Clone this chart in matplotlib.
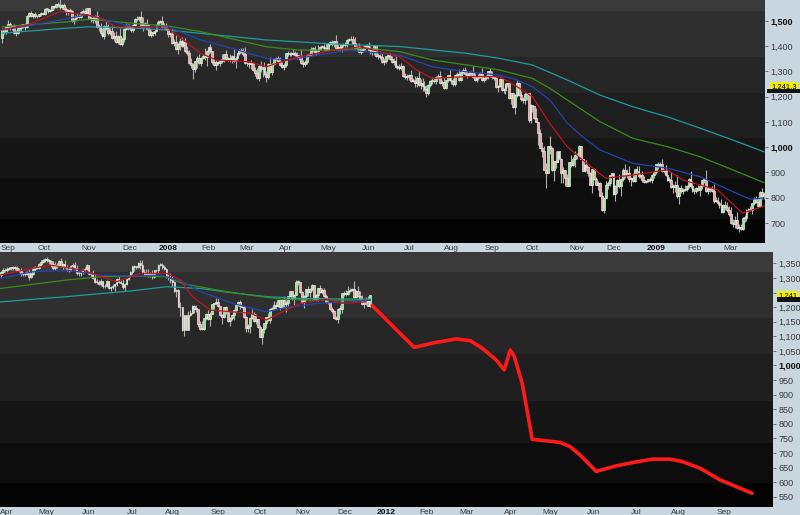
import numpy as np
import pandas as pd
import matplotlib
matplotlib.use("Agg")
import matplotlib.pyplot as plt
from matplotlib.patches import Rectangle

plt.rcParams['font.family'] = ['Liberation Sans', 'DejaVu Sans']

# ---------------- calendar ----------------
HOLIDAYS = ['2007-09-03', '2007-11-22', '2007-12-25', '2008-01-01', '2008-01-21', '2008-02-18',
            '2008-03-21', '2008-05-26', '2008-07-04', '2008-09-01', '2008-11-27', '2008-12-25',
            '2009-01-01', '2009-01-19', '2009-02-16',
            '2011-04-22', '2011-05-30', '2011-07-04', '2011-09-05', '2011-11-24', '2011-12-26',
            '2012-01-02', '2012-01-16', '2012-02-20', '2012-04-06', '2012-05-28', '2012-07-04',
            '2012-09-03']
top_start, top_end = '2007-08-29', '2009-03-25'
bot_start, bot_end = '2011-03-29', '2012-09-28'

# ---------------- top panel data (2007-2009) ----------------
top_open0 = 1432
top_close = [
    1463, 1457, 1474,
    1489, 1472, 1478, 1453, 1451, 1471, 1471, 1484, 1484, 1476, 1519, 1529, 1518, 1525, 1517, 1517, 1525, 1531, 1527,
    1547, 1546, 1540, 1542, 1557, 1553, 1565, 1562, 1554, 1561, 1548, 1538, 1541, 1540, 1500, 1507, 1520, 1516, 1515, 1535, 1540, 1531, 1549,
    1508, 1510, 1502, 1520, 1475, 1475, 1453, 1439, 1481, 1470, 1451, 1458, 1433, 1440, 1416, 1440, 1407, 1429, 1469, 1470, 1481,
    1473, 1462, 1485, 1508, 1505, 1515, 1477, 1486, 1488, 1467, 1445, 1454, 1453, 1460, 1484, 1496, 1497, 1476, 1478, 1468,
    1447, 1447, 1411, 1416, 1390, 1409, 1420, 1401, 1416, 1380, 1373, 1333, 1325, 1310, 1339, 1353, 1331, 1353, 1362, 1355, 1379,
    1396, 1380, 1336, 1326, 1336, 1331, 1339, 1348, 1367, 1349, 1349, 1348, 1360, 1342, 1353, 1371, 1381, 1380, 1367, 1331,
    1331, 1327, 1334, 1304, 1294, 1273, 1321, 1309, 1316, 1289, 1277, 1330, 1299, 1330, 1349, 1352, 1341, 1325, 1316, 1323,
    1371, 1368, 1370, 1370, 1373, 1365, 1355, 1361, 1333, 1329, 1335, 1364, 1366, 1390, 1388, 1376, 1380, 1389, 1398, 1397, 1391, 1386,
    1409, 1414, 1407, 1418, 1392, 1397, 1388, 1404, 1403, 1408, 1424, 1426, 1427, 1413, 1391, 1395, 1376, 1386, 1391, 1401, 1400,
    1386, 1377, 1377, 1404, 1361, 1361, 1358, 1335, 1339, 1360, 1361, 1350, 1338, 1342, 1318, 1318, 1315, 1322, 1283, 1278, 1280,
    1285, 1262, 1262, 1253, 1274, 1245, 1254, 1240, 1229, 1215, 1246, 1261, 1261, 1260, 1277, 1283, 1253, 1257, 1235, 1264, 1284, 1267,
    1261, 1249, 1284, 1290, 1267, 1297, 1306, 1290, 1286, 1293, 1298, 1278, 1266, 1275, 1278, 1292, 1267, 1272, 1281, 1300, 1283,
    1277, 1275, 1237, 1242, 1268, 1225, 1228, 1250, 1252, 1193, 1214, 1157, 1207, 1255, 1208, 1189, 1186, 1210, 1213, 1106, 1166,
    1161, 1115, 1099, 1056, 996, 985, 910, 899, 1003, 998, 908, 946, 941, 985, 955, 896, 909, 877, 848, 941, 930, 954, 969,
    966, 1005, 953, 905, 931, 920, 899, 852, 912, 873, 851, 859, 807, 752, 800, 852, 858, 888, 896,
    816, 848, 870, 845, 876, 909, 888, 899, 873, 879, 868, 913, 904, 885, 888, 871, 863, 868, 873, 869, 890, 903,
    932, 927, 935, 907, 910, 890, 871, 872, 842, 844, 850, 806, 840, 828, 832, 836, 845, 874, 845, 826,
    825, 838, 832, 845, 869, 870, 828, 834, 835, 827, 789, 788, 778, 770, 743, 773, 764, 753, 735,
    700, 696, 712, 682, 683, 677, 720, 721, 751, 757, 753, 778, 795, 785, 769, 823, 806, 814,
]
top_upper_wick = [
    8, 10, 6,
    12, 6, 5, 8, 10, 5, 6, 4, 5, 8, 3, 4, 10, 4, 8, 6, 3, 4, 5,
    3, 4, 6, 4, 3, 5, 2, 8, 22, 4, 10, 8, 6, 8, 2, 3, 4, 9, 12, 3, 5, 10, 3,
    1, 10, 8, 3, 18, 12, 16, 20, 4, 22, 18, 12, 20, 16, 20, 3, 30, 6, 4, 20, 7,
    8, 12, 3, 4, 10, 4, 22, 30, 8, 18, 20, 8, 6, 6, 3, 5, 4, 20, 12, 12,
    4, 6, 20, 10, 26, 4, 10, 16, 8, 16, 20, 10, 18, 8, 3, 8, 15, 3, 6, 30, 5,
    3, 12, 2, 14, 8, 6, 5, 20, 2, 18, 8, 20, 4, 30, 6, 3, 6, 10, 12, 30,
    6, 4, 12, 2, 14, 20, 3, 18, 4, 20, 12, 3, 25, 3, 5, 4, 8, 16, 12, 8,
    2, 10, 5, 8, 15, 6, 10, 6, 26, 10, 8, 3, 8, 5, 8, 12, 8, 14, 3, 8, 10, 20,
    3, 6, 10, 3, 24, 10, 12, 2, 8, 6, 3, 6, 12, 14, 22, 10, 16, 6, 8, 3, 6,
    14, 14, 10, 2, 1, 10, 8, 18, 12, 2, 6, 12, 12, 10, 20, 6, 12, 12, 1, 10, 8,
    5, 22, 10, 20, 8, 26, 15, 18, 20, 16, 4, 6, 18, 14, 4, 6, 20, 10, 22, 3, 3, 20,
    12, 14, 3, 8, 20, 3, 8, 12, 10, 8, 4, 22, 14, 8, 10, 4, 22, 6, 6, 3, 15,
    20, 5, 2, 2, 7, 2, 5, 3, 3, 3, 1, 2, 4, 10, 1, 13, 11, 10, 2, 2, 5,
    1, 1, 39, 1, 16, 25, 20, 26, 3, 41, 1, 1, 38, 1, 1, 1, 13, 1, 16, 1, 28, 9, 15,
    6, 2, 1, 1, 1, 20, 4, 1, 1, 4, 9, 6, 5, 14, 1, 16, 10, 1, 1,
    1, 3, 4, 25, 3, 9, 25, 15, 25, 4, 20, 2, 12, 20, 10, 18, 16, 4, 3, 8, 4, 3,
    2, 10, 8, 20, 5, 20, 20, 10, 30, 10, 18, 40, 2, 12, 6, 14, 6, 3, 30, 20,
    12, 4, 12, 4, 2, 8, 40, 10, 4, 10, 28, 12, 15, 10, 24, 3, 15, 20, 16,
    30, 15, 15, 30, 14, 12, 3, 12, 3, 2, 11, 3, 8, 10, 19, 2, 16, 8,
]
top_lower_wick = [
    20, 10, 8,
    6, 10, 8, 6, 10, 4, 8, 10, 12, 14, 4, 6, 4, 8, 6, 6, 4, 6, 4,
    4, 6, 8, 4, 3, 6, 4, 6, 6, 6, 4, 14, 16, 4, 4, 14, 10, 8, 6, 4, 6, 4, 6,
    3, 12, 12, 10, 4, 16, 8, 4, 10, 6, 8, 6, 4, 14, 4, 8, 4, 8, 12, 6, 8,
    4, 6, 8, 6, 6, 6, 4, 18, 10, 4, 4, 8, 12, 8, 6, 4, 4, 4, 10, 4,
    12, 10, 4, 12, 4, 22, 26, 4, 4, 2, 8, 3, 10, 40, 14, 26, 4, 10, 6, 10, 33,
    10, 6, 6, 4, 20, 6, 10, 8, 10, 4, 10, 10, 16, 4, 28, 10, 8, 6, 6, 4,
    10, 12, 18, 4, 12, 4, 10, 12, 32, 4, 21, 6, 4, 12, 4, 10, 10, 4, 4, 10,
    6, 8, 8, 8, 6, 6, 6, 10, 4, 10, 8, 6, 8, 6, 10, 8, 10, 6, 6, 6, 6, 4,
    4, 6, 8, 12, 4, 8, 4, 10, 6, 6, 10, 6, 6, 4, 4, 10, 4, 8, 8, 6, 6,
    6, 8, 12, 12, 4, 14, 10, 4, 10, 8, 10, 4, 4, 12, 4, 10, 8, 8, 4, 8, 12,
    14, 4, 6, 14, 14, 4, 14, 16, 6, 15, 8, 10, 12, 8, 10, 6, 4, 10, 4, 4, 6, 4,
    10, 6, 6, 8, 4, 6, 8, 6, 12, 6, 10, 4, 6, 10, 8, 6, 4, 8, 8, 10, 4,
    6, 8, 4, 20, 6, 4, 10, 16, 14, 4, 24, 4, 24, 8, 4, 8, 10, 16, 23, 5, 12,
    21, 4, 1, 49, 1, 25, 1, 59, 1, 26, 1, 42, 23, 1, 3, 36, 38, 32, 3, 3, 7, 6, 32,
    12, 1, 1, 1, 4, 13, 15, 1, 34, 1, 1, 21, 1, 5, 11, 1, 18, 11, 2,
    6, 30, 30, 6, 40, 10, 10, 10, 10, 25, 6, 4, 10, 6, 6, 8, 6, 4, 6, 6, 10, 12,
    8, 12, 6, 4, 8, 4, 6, 10, 4, 25, 20, 6, 30, 10, 14, 6, 10, 6, 6, 4,
    12, 6, 4, 24, 10, 10, 4, 14, 12, 6, 8, 6, 6, 10, 4, 4, 12, 10, 6,
    2, 10, 14, 6, 16, 5, 4, 16, 14, 6, 6, 16, 8, 4, 4, 4, 10, 12,
]

# moving averages of the top panel, read at sample dates
top_ma200_dates = ['2007-08-29', '2007-10-17', '2007-11-01', '2007-12-05', '2008-01-02', '2008-01-28',
                   '2008-03-17', '2008-05-06', '2008-06-24', '2008-08-13', '2008-09-08', '2008-10-01',
                   '2008-10-27', '2008-11-19', '2008-12-15', '2009-01-12', '2009-02-05', '2009-03-03',
                   '2009-03-25']
top_ma200 = [1451, 1471, 1476, 1471, 1463, 1450, 1424, 1408, 1398, 1371, 1351, 1325, 1266, 1206, 1160,
             1120, 1075, 1028, 982]
top_ma100_dates = ['2007-08-29', '2007-10-17', '2007-11-01', '2007-12-05', '2008-01-02', '2008-01-28',
                   '2008-03-17', '2008-04-10', '2008-05-06', '2008-05-30', '2008-06-24', '2008-07-18',
                   '2008-08-13', '2008-09-08', '2008-10-01', '2008-10-14', '2008-10-27', '2008-11-19',
                   '2008-12-15', '2009-01-12', '2009-02-05', '2009-03-03', '2009-03-25']
top_ma100 = [1476, 1496, 1506, 1490, 1479, 1457, 1397, 1384, 1384, 1391, 1378, 1345, 1325, 1305, 1272,
             1233, 1187, 1101, 1035, 1002, 962, 910, 860]
top_ma50_dates = ['2007-08-29', '2007-09-21', '2007-10-17', '2007-10-31', '2007-11-09', '2007-12-05',
                  '2008-01-02', '2008-01-28', '2008-02-20', '2008-03-17', '2008-04-03', '2008-04-23',
                  '2008-05-16', '2008-06-24', '2008-07-18', '2008-08-13', '2008-09-08', '2008-09-19',
                  '2008-10-01', '2008-10-14', '2008-10-27', '2008-11-06', '2008-11-19', '2008-12-15',
                  '2009-01-12', '2009-02-05', '2009-03-03', '2009-03-16', '2009-03-25']
top_ma50 = [1463, 1483, 1509, 1523, 1509, 1476, 1476, 1424, 1391, 1351, 1345, 1364, 1384, 1364, 1318,
            1298, 1285, 1266, 1239, 1187, 1096, 1041, 989, 936, 917, 883, 824, 794, 799]
top_ma20_dates = ['2007-08-29', '2007-09-18', '2007-10-11', '2007-10-31', '2007-11-09', '2007-11-21',
                  '2007-12-05', '2008-01-02', '2008-01-14', '2008-01-28', '2008-02-07', '2008-03-04',
                  '2008-03-17', '2008-03-28', '2008-04-10', '2008-05-06', '2008-05-27', '2008-06-24',
                  '2008-07-08', '2008-07-18', '2008-08-13', '2008-09-08', '2008-09-19', '2008-10-01',
                  '2008-10-14', '2008-10-27', '2008-11-06', '2008-11-24', '2008-12-15', '2009-01-12',
                  '2009-01-23', '2009-02-19', '2009-03-10', '2009-03-25']
top_ma20 = [1465, 1483, 1536, 1523, 1511, 1476, 1476, 1470, 1424, 1371, 1345, 1338, 1318, 1338, 1358,
            1384, 1397, 1358, 1305, 1272, 1279, 1279, 1239, 1200, 1094, 1002, 949, 877, 890, 910, 870,
            831, 739, 767]

# ---------------- bottom panel data (2011) ----------------
bot_open0 = 1310
bot_close = [
    1319, 1328, 1326,
    1332, 1333, 1333, 1336, 1334, 1328, 1325, 1314, 1314, 1315, 1320, 1305, 1313, 1330, 1337, 1335, 1347, 1356, 1360, 1364,
    1361, 1357, 1347, 1335, 1340, 1346, 1357, 1342, 1349, 1338, 1330, 1329, 1341, 1344, 1333, 1317, 1316, 1321, 1326, 1331, 1345,
    1315, 1313, 1300, 1286, 1285, 1280, 1289, 1271, 1272, 1288, 1265, 1268, 1272, 1278, 1296, 1287, 1284, 1269, 1280, 1297, 1307, 1321,
    1340, 1338, 1339, 1353, 1344, 1320, 1314, 1318, 1309, 1316, 1305, 1327, 1326, 1344, 1345, 1337, 1332, 1305, 1301, 1292,
    1287, 1254, 1260, 1200, 1199, 1120, 1173, 1121, 1173, 1179, 1205, 1193, 1194, 1141, 1124, 1124, 1162, 1178, 1159, 1177, 1210, 1213, 1219,
    1204, 1174, 1165, 1199, 1186, 1154, 1162, 1173, 1189, 1209, 1216, 1204, 1202, 1167, 1130, 1136, 1163, 1175, 1151, 1160, 1131,
    1099, 1124, 1144, 1165, 1155, 1195, 1196, 1207, 1204, 1225, 1201, 1225, 1210, 1215, 1238, 1254, 1229, 1242, 1285, 1285, 1253,
    1218, 1238, 1261, 1253, 1261, 1276, 1229, 1240, 1264, 1252, 1258, 1237, 1216, 1216, 1193, 1188, 1162, 1159, 1193, 1195, 1247,
    1245, 1244, 1257, 1259, 1261, 1234, 1255, 1237, 1226, 1212, 1216, 1220, 1205, 1241,
]
bot_upper_wick = [
    4, 6, 5,
    4, 6, 4, 6, 5, 8, 6, 8, 6, 6, 4, 12, 8, 6, 5, 4, 4, 4, 6, 4,
    9, 4, 6, 10, 14, 4, 3, 12, 4, 12, 8, 8, 3, 6, 12, 10, 6, 4, 4, 6, 3,
    1, 4, 14, 14, 10, 8, 6, 1, 8, 4, 1, 6, 8, 4, 3, 12, 6, 12, 4, 3, 4, 4,
    2, 4, 3, 3, 10, 18, 12, 12, 12, 4, 12, 2, 4, 3, 6, 6, 8, 1, 12, 15,
    15, 1, 1, 1, 18, 1, 1, 1, 13, 11, 1, 1, 15, 1, 13, 30, 1, 1, 12, 5, 1, 1, 11,
    11, 1, 1, 1, 5, 1, 3, 4, 4, 2, 4, 10, 3, 1, 1, 6, 4, 20, 9, 15, 1,
    7, 1, 2, 1, 16, 2, 3, 13, 12, 1, 1, 4, 14, 10, 1, 2, 1, 4, 8, 8, 1,
    1, 3, 1, 10, 3, 2, 1, 6, 2, 12, 6, 6, 8, 4, 2, 8, 1, 8, 3, 12, 1,
    8, 14, 17, 8, 6, 27, 3, 18, 17, 14, 10, 14, 18, 1,
]
bot_lower_wick = [
    6, 4, 4,
    6, 4, 6, 4, 6, 4, 4, 6, 8, 6, 4, 12, 4, 4, 6, 4, 4, 6, 4, 4,
    6, 8, 8, 8, 6, 6, 6, 4, 15, 4, 6, 10, 4, 6, 6, 6, 8, 10, 6, 4, 4,
    4, 8, 4, 4, 6, 4, 8, 4, 6, 4, 4, 8, 6, 16, 6, 4, 6, 6, 14, 4, 4, 4,
    6, 14, 6, 6, 12, 4, 4, 8, 6, 4, 10, 4, 6, 10, 4, 6, 6, 4, 8, 10,
    13, 1, 20, 1, 31, 1, 19, 1, 1, 3, 1, 13, 11, 10, 2, 3, 1, 6, 4, 24, 1, 15, 4,
    4, 4, 24, 2, 10, 6, 17, 6, 16, 6, 6, 10, 4, 3, 16, 16, 24, 4, 2, 10, 2,
    1, 24, 12, 16, 2, 8, 2, 6, 12, 4, 10, 2, 14, 28, 12, 4, 6, 20, 2, 8, 4,
    3, 20, 12, 14, 18, 6, 2, 8, 20, 4, 8, 2, 2, 4, 2, 8, 2, 2, 14, 16, 14,
    6, 6, 2, 6, 2, 4, 4, 2, 2, 4, 14, 10, 2, 3,
]

bot_ma200_dates = ['2011-03-29', '2011-05-16', '2011-07-01', '2011-07-27', '2011-08-19', '2011-09-13',
                   '2011-10-06', '2011-10-31', '2011-11-30', '2011-12-20']
bot_ma200 = [1218, 1236, 1256, 1270, 1264, 1249, 1236, 1230, 1228, 1227]
bot_ma100_dates = ['2011-03-29', '2011-05-16', '2011-06-09', '2011-07-01', '2011-07-27', '2011-08-08',
                   '2011-08-31', '2011-09-26', '2011-10-18', '2011-11-10', '2011-12-06', '2011-12-20']
bot_ma100 = [1264, 1293, 1304, 1306, 1304, 1281, 1259, 1241, 1227, 1224, 1224, 1224]
bot_ma50_dates = ['2011-03-29', '2011-04-20', '2011-05-16', '2011-06-09', '2011-07-01', '2011-07-22',
                  '2011-08-08', '2011-08-19', '2011-09-13', '2011-10-06', '2011-10-18', '2011-11-10',
                  '2011-12-06', '2011-12-20']
bot_ma50 = [1299, 1321, 1327, 1310, 1306, 1310, 1287, 1253, 1213, 1184, 1196, 1213, 1218, 1224]
bot_ma20_dates = ['2011-03-29', '2011-04-20', '2011-05-04', '2011-05-26', '2011-06-21', '2011-07-08',
                  '2011-07-27', '2011-08-05', '2011-08-15', '2011-08-26', '2011-09-13', '2011-09-26',
                  '2011-10-06', '2011-10-18', '2011-10-31', '2011-11-17', '2011-11-30', '2011-12-16']
bot_ma20 = [1310, 1333, 1344, 1327, 1287, 1316, 1316, 1293, 1236, 1190, 1184, 1179, 1156, 1184, 1213,
            1227, 1213, 1218]

# projection (red line)
proj_dates = ['2011-12-21', '2012-01-11', '2012-01-24', '2012-02-07', '2012-02-23', '2012-03-05',
              '2012-03-13', '2012-03-22', '2012-03-28', '2012-04-02', '2012-04-04', '2012-04-11',
              '2012-04-16', '2012-04-18', '2012-04-27', '2012-05-08', '2012-05-15', '2012-05-22',
              '2012-06-04', '2012-06-18', '2012-06-28', '2012-07-13', '2012-07-26', '2012-08-03',
              '2012-08-16', '2012-08-30', '2012-09-10', '2012-09-24']
proj_values = [1205, 1116, 1062, 1078, 1091, 1085, 1059, 1019, 985, 1053, 1032, 939, 825, 747, 742,
               736, 722, 693, 637, 656, 667, 679, 679, 671, 648, 608, 591, 562]

top_yticks = [700, 800, 900, 1000, 1100, 1200, 1300, 1400, 1500]
bot_yticks = [550, 600, 650, 700, 750, 800, 850, 900, 950, 1000, 1050, 1100, 1150, 1200, 1250, 1300, 1350]
bot_hidden_ticks = [1250]          # covered by the last-price tag in the reference
last_price = 1241.3

# ---------------- drawing ----------------
W, H = 800, 515
fig = plt.figure(figsize=(8.0, 5.15), dpi=100)
fig.patch.set_facecolor('#c8d6df')

ax1 = fig.add_axes([0, (H - 243) / H, 765 / W, 243 / H])
ax2 = fig.add_axes([0, (H - 507) / H, 773 / W, 255 / H])

top_days = pd.bdate_range(top_start, top_end, freq='C', holidays=HOLIDAYS)
bot_days = pd.bdate_range(bot_start, bot_end, freq='C', holidays=HOLIDAYS)


def bands(ax, edges, colors):
    for (y0, y1), c in zip(edges, colors):
        ax.add_patch(Rectangle((0, y0), 1, y1 - y0, transform=ax.transAxes,
                               facecolor=c, edgecolor='none', zorder=0))


band_cols = ['#040404', '#0d0d0d', '#161616', '#1e1e1e', '#262626', '#2f2f2f', '#3a3a3a']
bands(ax1, [(0, .099), (.099, .267), (.267, .432), (.432, .617), (.617, .765), (.765, .955), (.955, 1)], band_cols)
bands(ax2, [(0, .094), (.094, .251), (.251, .416), (.416, .600), (.600, .741), (.741, .922), (.922, 1)], band_cols)


def candles(ax, close, open0, upw, low, minh):
    c = np.asarray(close, float)
    o = np.concatenate([[open0], c[:-1]])
    x = np.arange(len(c))
    hi = np.maximum(o, c) + np.asarray(upw, float)
    lo = np.minimum(o, c) - np.asarray(low, float)
    ax.vlines(x, lo, hi, color='#b0b0b0', lw=0.8, zorder=2)
    bot = np.minimum(o, c)
    h = np.maximum(np.abs(c - o), minh)
    cols = np.where(c >= o, '#86ee86', '#f7a0a0')
    ax.bar(x, h, bottom=bot, width=0.95, color=cols, edgecolor='#f4f4f4', linewidth=0.45, zorder=3)


candles(ax1, top_close, top_open0, top_upper_wick, top_lower_wick, 3.5)
candles(ax2, bot_close, bot_open0, bot_upper_wick, bot_lower_wick, 3.0)


def ma(ax, days, dates, vals, color):
    x = days.searchsorted(pd.to_datetime(dates))
    ax.plot(x, vals, color=color, lw=0.9, zorder=4)


ma(ax1, top_days, top_ma200_dates, top_ma200, '#1f9c9c')
ma(ax1, top_days, top_ma100_dates, top_ma100, '#3a8c1c')
ma(ax1, top_days, top_ma50_dates, top_ma50, '#2244b0')
ma(ax1, top_days, top_ma20_dates, top_ma20, '#c0141e')
ma(ax2, bot_days, bot_ma200_dates, bot_ma200, '#1f9c9c')
ma(ax2, bot_days, bot_ma100_dates, bot_ma100, '#3a8c1c')
ma(ax2, bot_days, bot_ma50_dates, bot_ma50, '#2244b0')
ma(ax2, bot_days, bot_ma20_dates, bot_ma20, '#c0141e')

px = bot_days.searchsorted(pd.to_datetime(proj_dates))
ax2.plot(px, proj_values, color='#ff1a1a', lw=2.6, solid_joinstyle='round',
         solid_capstyle='round', zorder=6)

ax1.set_xlim(-1.14, 395.6)
ax1.set_ylim(621, 1582)
ax2.set_xlim(-0.3, 386.5)
ax2.set_ylim(515, 1389)


def month_ticks(days):
    pos, lab, bold = [], [], []
    for i in range(1, len(days)):
        if days[i].month != days[i - 1].month:
            pos.append(i)
            if days[i].month == 1:
                lab.append(str(days[i].year))
                bold.append(True)
            else:
                lab.append(days[i].strftime('%b'))
                bold.append(False)
    return pos, lab, bold


def style(ax, days, yticks, bold_y, hidden=()):
    for s in ax.spines.values():
        s.set_visible(False)
    pos, lab, bold = month_ticks(days)
    ax.set_xticks(pos)
    xl = ax.set_xticklabels(lab)
    for t, b in zip(xl, bold):
        t.set_fontweight('bold' if b else 'normal')
        t.set_color('#111' if b else '#3a3a3a')
    ax.tick_params(axis='x', length=0, pad=1.2, labelsize=6)
    ax.yaxis.tick_right()
    ax.set_yticks(yticks)
    yl = ax.set_yticklabels(['' if v in hidden else f'{v:,}' for v in yticks])
    for v, t in zip(yticks, yl):
        if v in bold_y:
            t.set_fontweight('bold')
            t.set_color('#111')
        else:
            t.set_color('#3a3a3a')
    ax.tick_params(axis='y', length=2.5, width=0.6, color='#555', pad=1.5, labelsize=6.5)


style(ax1, top_days, top_yticks, [1000, 1500])
style(ax2, bot_days, bot_yticks, [1000], bot_hidden_ticks)

# last price tags
for ax, xoff, txt in [(ax1, 1.008, f'{last_price:,.1f}'), (ax2, 1.0065, f'{last_price:,.0f}')]:
    ax.text(xoff, last_price, txt, transform=ax.get_yaxis_transform(), fontsize=5.5,
            ha='left', va='center', color='black', zorder=20, clip_on=False,
            bbox=dict(boxstyle='square,pad=0.12', fc='#f2ee00', ec='none'))

fig.patches.append(Rectangle((767 / W, (H - 93) / H), 33 / W, 4 / H, transform=fig.transFigure,
                             facecolor='#111', edgecolor='none', zorder=15))
fig.patches.append(Rectangle((777 / W, (H - 302) / H), 23 / W, 5 / H, transform=fig.transFigure,
                             facecolor='#111', edgecolor='none', zorder=15))

fig.savefig('out.png', dpi=100, facecolor=fig.get_facecolor())
